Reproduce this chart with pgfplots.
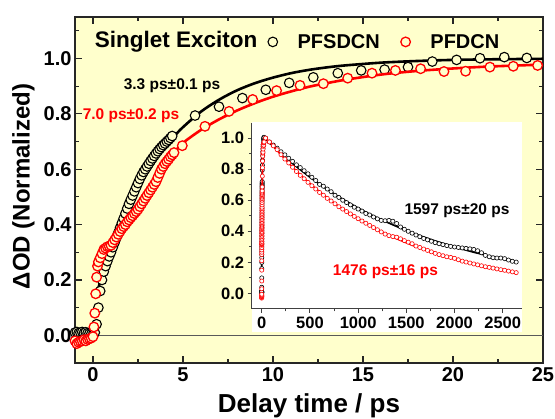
\documentclass[border=0pt]{standalone}
\usepackage{pgfplots}
\pgfplotsset{compat=1.18}
\usepackage{pgfplotstable}
\usepackage{fontspec}
\setmainfont{Liberation Sans}
\definecolor{bgyellow}{RGB}{255,255,204}

% main panel data: PFSDCN (black) and PFDCN (red), delay in ps
\pgfplotstableread{
t v
-1.0 0.010
-0.9 0.012
-0.8 0.008
-0.7 0.010
-0.6 0.012
-0.5 0.009
-0.4 0.011
-0.3 0.008
-0.2 0.006
-0.1 0.004
0.0 0.003
0.1 0.010
0.2 0.040
0.3 0.100
0.4 0.160
0.5 0.200
0.6 0.230
0.7 0.250
0.8 0.268
0.9 0.285
1.0 0.300
1.1 0.318
1.2 0.335
1.3 0.352
1.4 0.370
1.5 0.388
1.6 0.405
1.7 0.422
1.8 0.440
1.9 0.458
2.0 0.475
2.1 0.490
2.2 0.505
2.3 0.520
2.4 0.535
2.5 0.550
2.6 0.565
2.7 0.578
2.8 0.590
2.9 0.600
3.0 0.610
3.1 0.620
3.2 0.630
3.3 0.639
3.4 0.648
3.5 0.657
3.6 0.665
3.7 0.673
3.8 0.680
3.9 0.687
4.0 0.693
4.1 0.700
4.2 0.706
4.3 0.713
4.4 0.720
5.67 0.794
7.0 0.826
8.3 0.857
9.6 0.887
10.9 0.912
12.24 0.932
13.6 0.947
14.9 0.957
16.2 0.960
17.5 0.969
18.85 0.989
20.2 0.995
21.5 1.001
22.85 1.005
24.1 1.002
}\bdat

\pgfplotstableread{
t v
-1.0 -0.020
-0.9 -0.030
-0.8 -0.025
-0.7 -0.022
-0.6 -0.020
-0.5 -0.016
-0.4 -0.020
-0.3 -0.015
-0.2 -0.012
-0.1 -0.010
0.0 -0.005
0.05 0.030
0.1 0.080
0.15 0.150
0.2 0.210
0.25 0.250
0.3 0.265
0.4 0.280
0.5 0.295
0.6 0.310
0.7 0.315
0.8 0.320
0.9 0.322
1.0 0.325
1.1 0.335
1.2 0.345
1.3 0.355
1.4 0.365
1.5 0.375
1.6 0.385
1.7 0.393
1.8 0.400
1.9 0.410
2.0 0.417
2.1 0.425
2.2 0.432
2.3 0.440
2.4 0.447
2.5 0.455
2.6 0.465
2.7 0.475
2.8 0.485
2.9 0.495
3.0 0.505
3.1 0.515
3.2 0.525
3.3 0.535
3.4 0.545
3.5 0.555
3.6 0.570
3.7 0.585
3.8 0.600
3.9 0.610
4.0 0.620
4.1 0.628
4.2 0.636
4.3 0.645
4.4 0.652
4.5 0.660
4.96 0.685
6.22 0.755
7.56 0.809
8.87 0.852
10.2 0.884
11.5 0.903
12.8 0.909
14.15 0.929
15.5 0.947
16.8 0.957
18.2 0.963
19.5 0.953
20.7 0.954
22.05 0.969
23.35 0.972
24.7 0.975
}\rdat

% fitted rise curves
\pgfplotstableread{
t v
0.3 0.171
0.5 0.213
1.0 0.307
1.5 0.391
2.0 0.464
2.5 0.529
3.0 0.585
3.5 0.635
4.0 0.679
4.5 0.718
5.0 0.752
6.0 0.808
7.0 0.851
8.0 0.885
9.0 0.911
10.0 0.931
11.0 0.947
12.0 0.959
13.0 0.968
14.0 0.975
16.0 0.985
18.0 0.991
20.0 0.995
22.0 0.997
25.0 0.999
}\bfit

\pgfplotstableread{
t v
0.4 0.280
0.8 0.320
1.2 0.350
1.6 0.390
2.0 0.430
2.5 0.475
3.0 0.520
3.5 0.570
4.0 0.625
4.5 0.660
5.0 0.695
6.0 0.742
7.0 0.780
8.0 0.812
9.0 0.839
10.0 0.862
11.0 0.881
12.0 0.898
13.0 0.911
14.0 0.923
16.0 0.942
18.0 0.955
20.0 0.964
22.0 0.971
25.0 0.978
}\rfit

% inset: long delay decay
\pgfplotstableread{
t v
40 1.000
80 0.975
120 0.955
160 0.935
200 0.912
240 0.892
280 0.870
320 0.850
360 0.828
400 0.810
440 0.790
480 0.770
520 0.748
560 0.727
600 0.702
640 0.690
680 0.672
720 0.655
760 0.632
800 0.618
840 0.600
880 0.585
920 0.570
960 0.555
1000 0.543
1040 0.530
1080 0.515
1120 0.505
1160 0.492
1200 0.480
1240 0.470
1280 0.468
1320 0.470
1360 0.465
1400 0.450
1440 0.428
1480 0.413
1520 0.400
1560 0.388
1600 0.376
1640 0.365
1680 0.354
1720 0.345
1760 0.336
1800 0.327
1840 0.320
1880 0.314
1920 0.308
1960 0.303
2000 0.299
2040 0.296
2080 0.293
2120 0.290
2160 0.287
2200 0.283
2240 0.275
2280 0.262
2320 0.245
2360 0.236
2400 0.230
2440 0.228
2480 0.228
2520 0.224
2560 0.215
2600 0.207
2640 0.202
}\blong

\pgfplotstableread{
t v
40 1.000
80 0.975
120 0.950
160 0.925
200 0.893
240 0.865
280 0.840
320 0.812
360 0.785
400 0.760
440 0.738
480 0.715
520 0.693
560 0.672
600 0.650
640 0.632
680 0.612
720 0.595
760 0.577
800 0.558
840 0.543
880 0.527
920 0.512
960 0.496
1000 0.481
1040 0.466
1080 0.452
1120 0.438
1160 0.424
1200 0.410
1240 0.396
1280 0.382
1320 0.372
1360 0.366
1400 0.362
1440 0.352
1480 0.340
1520 0.330
1560 0.320
1600 0.305
1640 0.296
1680 0.286
1720 0.277
1760 0.268
1800 0.258
1840 0.250
1880 0.243
1920 0.236
1960 0.232
2000 0.226
2040 0.217
2080 0.208
2120 0.202
2160 0.196
2200 0.190
2240 0.184
2280 0.178
2320 0.172
2360 0.168
2400 0.163
2440 0.158
2480 0.153
2520 0.149
2560 0.144
2600 0.139
2640 0.134
}\rlong

\pgfplotstableread{
t v
0.3 0.171
2 0.464
5 0.752
10 0.931
20 0.995
30 1.000
100 0.958
200 0.900
300 0.846
400 0.796
500 0.748
600 0.703
700 0.661
800 0.622
900 0.585
1000 0.550
1100 0.517
1200 0.486
1300 0.458
1400 0.431
1500 0.405
1600 0.381
1700 0.359
1800 0.338
1900 0.318
2000 0.299
2100 0.282
2200 0.265
2300 0.250
2400 0.235
2500 0.222
2600 0.209
2650 0.203
}\bfitlong

\pgfplotstableread{
t v
0.4 0.280
2 0.430
5 0.695
10 0.862
20 0.964
40 1.000
100 0.963
200 0.891
300 0.826
400 0.764
500 0.707
600 0.655
700 0.606
800 0.561
900 0.519
1000 0.480
1100 0.445
1200 0.412
1300 0.381
1400 0.352
1500 0.326
1600 0.301
1700 0.279
1800 0.257
1900 0.238
2000 0.220
2100 0.203
2200 0.187
2300 0.173
2400 0.159
2500 0.147
2600 0.136
2650 0.130
}\rfitlong

\begin{document}
\begin{tikzpicture}
\path[use as bounding box] (-75pt,-56pt) rectangle (480pt,363pt);
\begin{axis}[
  at={(0pt,0pt)}, anchor=south west,
  scale only axis, width=468pt, height=346pt,
  xmin=-1, xmax=25, ymin=-0.1, ymax=1.15,
  xtick={0,5,10,15,20,25}, minor x tick num=1,
  ytick={0,0.2,0.4,0.6,0.8,1.0},
  minor ytick={-0.1,0.1,0.3,0.5,0.7,0.9,1.1},
  tick pos=both, tick align=inside,
  major tick length=7pt, minor tick length=4pt,
  axis background/.style={fill=bgyellow},
  axis line style={line width=1.3pt, black!85},
  every tick/.style={line width=1.1pt, black!85},
  /pgf/number format/assume math mode=true,
  yticklabel style={/pgf/number format/.cd, fixed, fixed zerofill, precision=1},
  xticklabel style={yshift=-1pt},
  tick label style={font=\bfseries\fontsize{20}{24}\selectfont},
  xlabel={Delay time / ps},
  ylabel={ΔOD (Normalized)},
  xlabel style={font=\bfseries\fontsize{26}{30}\selectfont,
    at={(axis description cs:0.5,-0.123)}, anchor=center},
  ylabel style={font=\bfseries\fontsize{24}{28}\selectfont,
    at={(axis description cs:-0.11,0.51)}, anchor=center},
  clip mode=individual,
  legend columns=2,
  legend image code/.code={\draw[mark repeat=2, mark phase=2, #1]
    plot coordinates {(0pt,0pt) (6pt,0pt) (12pt,0pt)};},
  legend style={draw=none, fill=none, inner sep=0pt, outer sep=0pt,
    at={(axis description cs:0.4124,0.928)}, anchor=west,
    font=\bfseries\fontsize{20}{24}\selectfont,
    nodes={inner sep=1pt},
    /tikz/every odd column/.append style={column sep=19pt},
    /tikz/every even column/.append style={column sep=20pt}},
]
\addplot[forget plot, black!65, line width=0.7pt] coordinates {(-1,0) (25,0)};
\addplot[forget plot, black, line width=2.6pt, smooth] table[x=t, y=v] {\bfit};
\addplot[only marks, mark=*, mark size=4.8pt,
  mark options={draw=black, fill=bgyellow, line width=1.1pt}] table[x=t, y=v] {\bdat};
\addlegendentry{PFSDCN}
\addplot[forget plot, red, line width=2.6pt, smooth] table[x=t, y=v] {\rfit};
\addplot[only marks, mark=*, mark size=4.8pt,
  mark options={draw=red, fill=bgyellow, line width=1.3pt}] table[x=t, y=v] {\rdat};
\addlegendentry{PFDCN}
\node[anchor=west, font=\bfseries\fontsize{22.5}{26}\selectfont]
  at (axis description cs:0.035,0.928) {Singlet Exciton};
\node[font=\bfseries\fontsize{15.5}{18}\selectfont] at (axis cs:4.39,0.903) {3.3 ps±0.1 ps};
\node[font=\bfseries\fontsize{15.5}{18}\selectfont, text=red] at (axis cs:2.11,0.794) {7.0 ps±0.2 ps};
\end{axis}

\fill[white] (176.7pt,31pt) rectangle (446.7pt,241pt);

\begin{axis}[
  at={(176.7pt,54pt)}, anchor=south west,
  scale only axis, width=270pt, height=186pt,
  xmin=-104, xmax=2697, ymin=-0.1, ymax=1.097,
  axis x line*=bottom, axis y line*=left,
  xtick={0,500,1000,1500,2000,2500}, minor x tick num=1,
  ytick={0,0.2,0.4,0.6,0.8,1.0}, minor y tick num=1,
  tick align=outside, major tick length=4pt, minor tick length=2.5pt,
  scaled x ticks=false,
  axis line style={line width=1pt, black!75},
  every tick/.style={line width=0.9pt, black!75},
  /pgf/number format/assume math mode=true,
  xticklabel style={/pgf/number format/1000 sep={}},
  yticklabel style={/pgf/number format/.cd, fixed, fixed zerofill, precision=1},
  tick label style={font=\bfseries\fontsize{16.5}{20}\selectfont},
  clip mode=individual,
]
\addplot[black, line width=1.6pt] table[x=t, y=v] {\bfitlong};
\addplot[only marks, mark=*, mark size=2.1pt,
  mark options={draw=black, fill=white, line width=0.6pt}] table[x=t, y=v] {\bdat};
\addplot[only marks, mark=*, mark size=2.1pt,
  mark options={draw=black, fill=white, line width=0.6pt}] table[x=t, y=v] {\blong};
\addplot[red, line width=1.6pt] table[x=t, y=v] {\rfitlong};
\addplot[only marks, mark=*, mark size=2.1pt,
  mark options={draw=red, fill=white, line width=0.6pt}] table[x=t, y=v] {\rdat};
\addplot[only marks, mark=*, mark size=2.1pt,
  mark options={draw=red, fill=white, line width=0.6pt}] table[x=t, y=v] {\rlong};
\node[font=\bfseries\fontsize{15.5}{18}\selectfont] at (axis cs:2026,0.535) {1597 ps±20 ps};
\node[font=\bfseries\fontsize{15.5}{18}\selectfont, text=red] at (axis cs:1284,0.142) {1476 ps±16 ps};
\end{axis}
\end{tikzpicture}
\end{document}
